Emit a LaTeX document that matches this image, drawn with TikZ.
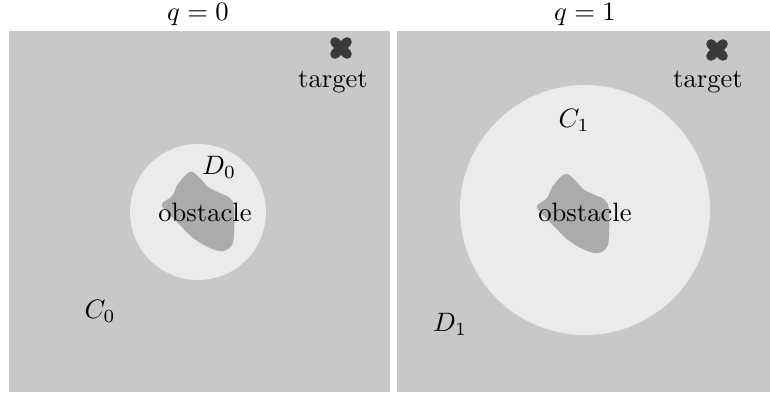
\documentclass[tikz,border=0pt]{standalone}
\usepackage{amsmath}
\usepackage{tikz}
\usetikzlibrary{positioning}

\definecolor{fieldgray}{HTML}{C8C8C8}
\definecolor{safegray}{HTML}{EBEBEB}
\definecolor{obstgray}{HTML}{ABABAB}
\definecolor{markgray}{HTML}{3A3A3A}

\begin{document}
\begin{tikzpicture}[
  x=0.0132cm, y=-0.0132cm,
  panel/.style={fill=fieldgray, draw=none},
  safezone/.style={fill=safegray, draw=none},
  obstblob/.style={fill=obstgray, draw=none},
  label/.style={inner sep=0pt, font=\normalsize},
  crossmark/.style={draw=markgray, line width=3.6pt, line cap=round}
]
\useasboundingbox (0,0) rectangle (770,392);

% Panels
\fill[panel] (9,31) rectangle (390,392);
\fill[panel] (397,31) rectangle (770,392);

% Regions around the obstacle
\fill[safezone] (198,212) circle (68);
\fill[safezone] (585,210) circle (125);

% Obstacles
\fill[obstblob] plot[smooth cycle, tension=0.6] coordinates {
  (190,172) (200,178) (208,187) (220,193) (230,198) (234,208) (234,232)
  (232,245) (223,251) (210,248) (193,238) (180,225) (167,212) (162,204)
  (172,196) (178,184)};
\fill[obstblob] plot[smooth cycle, tension=0.6] coordinates {
  (565,174) (575,180) (583,189) (595,195) (605,200) (609,210) (609,234)
  (607,247) (598,253) (585,250) (568,240) (555,227) (542,214) (537,206)
  (547,198) (553,186)};

% Titles
\node[label] (title0) at (198,15) {$q=0$};
\node[label] (title1) at (585,15) {$q=1$};

% Targets
\coordinate (goal0) at (341,48);
\coordinate (goal1) at (717,50);
\draw[crossmark] ([shift={(-6,-6)}]goal0) -- ([shift={(6,6)}]goal0);
\draw[crossmark] ([shift={(-6,6)}]goal0) -- ([shift={(6,-6)}]goal0);
\draw[crossmark] ([shift={(-6,-6)}]goal1) -- ([shift={(6,6)}]goal1);
\draw[crossmark] ([shift={(-6,6)}]goal1) -- ([shift={(6,-6)}]goal1);
\node[label] (target0) at (333,82) {target};
\node[label] (target1) at (708,82) {target};

% Region labels, q = 0
\node[label] (obst0) at (205,212) {obstacle};
\node[label] (D0) at (219,167) {$D_0$};
\node[label] (C0) at (100,311) {$C_0$};

% Region labels, q = 1
\node[label] (obst1) at (585,212) {obstacle};
\node[label] (C1) at (574,120) {$C_1$};
\node[label] (D1) at (450,324) {$D_1$};

\end{tikzpicture}
\end{document}
